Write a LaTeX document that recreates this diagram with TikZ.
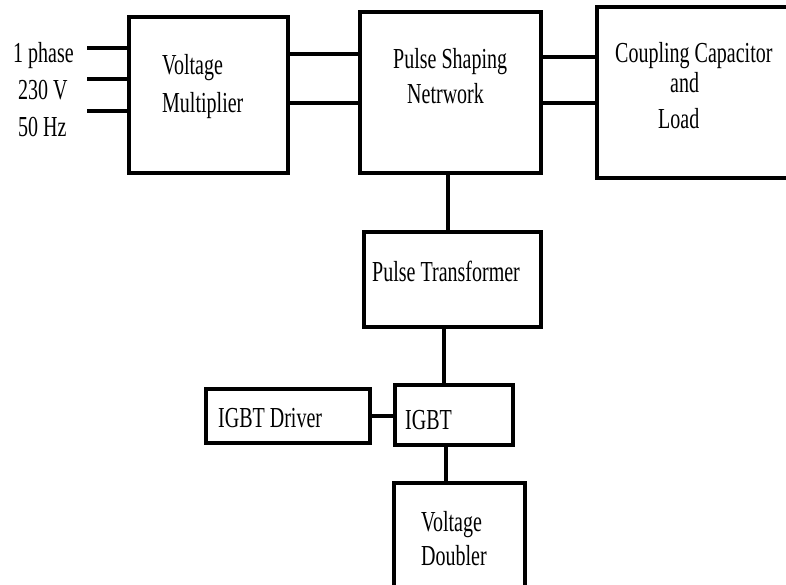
\documentclass[tikz,border=0pt]{standalone}
\usepackage{fontspec}
\setmainfont{Liberation Serif}[FakeStretch=0.69]
\begin{document}
\begin{tikzpicture}[x=1pt,y=-1pt,
  blk/.style={draw=black,line width=4.8pt,minimum width=#1,inner sep=0pt},
  lbl/.style={anchor=base west,inner sep=0pt,font=\fontsize{29}{30}\selectfont},
  wire/.style={line width=4pt}]
\useasboundingbox (0,0) rectangle (786,584);
\clip (0,0) rectangle (786,584);
% boxes
\node[blk=159pt,minimum height=156pt] (vm) at (208.5,95) {};
\node[blk=181pt,minimum height=161pt] (ps) at (450.5,92.5) {};
\node[blk=240pt,minimum height=171pt] (cc) at (717,92.5) {};
\node[blk=177pt,minimum height=95pt] (pt) at (452.5,279.5) {};
\node[blk=118pt,minimum height=60pt] (igbt) at (454,415) {};
\node[blk=164pt,minimum height=54pt] (drv) at (288,416) {};
\node[blk=131pt,minimum height=117pt] (vd) at (459.5,541.5) {};
% labels
\node[lbl] (t1) at (13,62) {1 phase};
\node[lbl] (t2) at (18,99) {230 V};
\node[lbl] (t3) at (18,136) {50 Hz};
\node[lbl] (vm1) at (162,74) {Voltage};
\node[lbl] (vm2) at (162,112) {Multiplier};
\node[lbl] (ps1) at (393,68) {Pulse Shaping};
\node[lbl] (ps2) at (407,103) {Netrwork};
\node[lbl] (cc1) at (615,62) {Coupling Capacitor};
\node[lbl] (cc2) at (670,92) {and};
\node[lbl] (cc3) at (658,128) {Load};
\node[lbl] (ptl) at (372,281) {Pulse Transformer};
\node[lbl] (drl) at (218,427) {IGBT Driver};
\node[lbl] (igl) at (405,429) {IGBT};
\node[lbl] (vd1) at (421,531) {Voltage};
\node[lbl] (vd2) at (421,565) {Doubler};
% input wire ends
\coordinate (in1) at (87,48);
\coordinate (in2) at (87,79);
\coordinate (in3) at (87,111);
\draw[wire] (in1) -- (vm.west |- in1);
\draw[wire] (in2) -- (vm.west |- in2);
\draw[wire] (in3) -- (vm.west |- in3);
% connectors
\draw[wire] (vm.east |- 0,54) -- (ps.west |- 0,54);
\draw[wire] (vm.east |- 0,103) -- (ps.west |- 0,103);
\draw[wire] (ps.east |- 0,57) -- (cc.west |- 0,57);
\draw[wire] (ps.east |- 0,103) -- (cc.west |- 0,103);
\draw[wire] (ps.south -| 448,0) -- (pt.north -| 448,0);
\draw[wire] (pt.south -| 444,0) -- (igbt.north -| 444,0);
\draw[wire] (drv.east |- 0,416) -- (igbt.west |- 0,416);
\draw[wire] (igbt.south -| 446,0) -- (vd.north -| 446,0);
\end{tikzpicture}
\end{document}
